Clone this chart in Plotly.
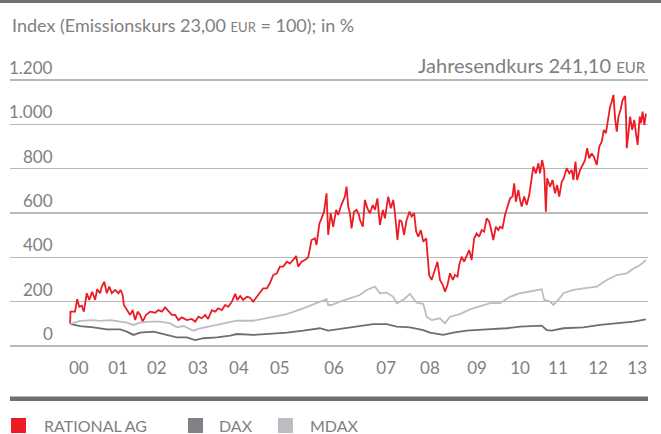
import plotly.graph_objects as go

# ---------------- data ----------------
rational_years = [
    2000.17, 2000.18, 2000.29, 2000.34, 2000.39, 2000.45, 2000.50, 2000.57, 2000.63, 2000.70,
    2000.77, 2000.82, 2000.89, 2000.93, 2000.99, 2001.05, 2001.11, 2001.17, 2001.25, 2001.33,
    2001.38, 2001.43, 2001.46, 2001.53, 2001.61, 2001.67, 2001.73, 2001.79, 2001.85, 2001.91,
    2001.99, 2002.09, 2002.21, 2002.29, 2002.37, 2002.45, 2002.53, 2002.61, 2002.69, 2002.77,
    2002.85, 2002.97, 2003.09, 2003.17, 2003.25, 2003.33, 2003.41, 2003.48, 2003.57, 2003.65,
    2003.72, 2003.81,
    2003.89, 2003.96, 2004.05, 2004.13, 2004.18, 2004.25, 2004.32, 2004.41, 2004.48, 2004.56,
    2004.65, 2004.72, 2004.80, 2004.89, 2004.96, 2005.04, 2005.13, 2005.20, 2005.28, 2005.37,
    2005.44, 2005.52, 2005.59, 2005.64, 2005.72, 2005.80, 2005.88, 2005.96, 2006.04, 2006.08,
    2006.15, 2006.20, 2006.26, 2006.32, 2006.36, 2006.42, 2006.48, 2006.55, 2006.60, 2006.66,
    2006.72, 2006.76, 2006.80, 2006.84, 2006.88, 2006.92, 2006.98, 2007.04, 2007.10,
    2007.12, 2007.19, 2007.24, 2007.30, 2007.36, 2007.43, 2007.48, 2007.54, 2007.60, 2007.67,
    2007.72, 2007.80, 2007.86, 2007.92, 2007.96, 2008.02, 2008.07, 2008.12, 2008.18, 2008.24,
    2008.31, 2008.36, 2008.42, 2008.47, 2008.52, 2008.58, 2008.64, 2008.71, 2008.75, 2008.78,
    2008.84, 2008.92, 2008.98, 2009.04, 2009.11, 2009.16, 2009.22, 2009.28, 2009.35, 2009.40,
    2009.46, 2009.50, 2009.56, 2009.62, 2009.68, 2009.74, 2009.80, 2009.86, 2009.92, 2009.98,
    2010.04, 2010.10, 2010.16, 2010.22, 2010.26, 2010.32, 2010.38, 2010.44,
    2010.48, 2010.54, 2010.60, 2010.66, 2010.72, 2010.78, 2010.82, 2010.86, 2010.92, 2010.96,
    2011.00, 2011.06, 2011.12, 2011.18, 2011.24, 2011.28, 2011.34, 2011.40, 2011.44, 2011.49,
    2011.54, 2011.58, 2011.61, 2011.68, 2011.74, 2011.80, 2011.85, 2011.90, 2011.96, 2012.01,
    2012.08, 2012.14, 2012.20, 2012.24, 2012.29, 2012.33, 2012.40, 2012.46, 2012.52, 2012.57,
    2012.62, 2012.68, 2012.73, 2012.80, 2012.86, 2012.92, 2012.97, 2013.02, 2013.08, 2013.12,
    2013.16, 2013.20, 2013.24, 2013.28, 2013.32, 2013.37, 2013.42, 2013.48, 2013.50, 2013.52,
    2013.56, 2013.60, 2013.65, 2013.70, 2013.74, 2013.78, 2013.83, 2013.86, 2013.90, 2013.94,
    2013.98,
]
rational_index = [
    100, 155, 155, 211, 177, 182, 155, 238, 208, 245,
    208, 256, 238, 268, 290, 238, 268, 238, 253, 238,
    253, 230, 185, 162, 140, 162, 117, 155, 140, 110,
    140, 155, 150, 162, 155, 174, 155, 140, 140, 117,
    129, 117, 122, 110, 132, 125, 140, 122, 162, 155,
    170, 162,
    185, 177, 200, 235, 208, 226, 208, 222, 219, 200,
    222, 238, 260, 260, 283, 320, 328, 358, 358, 380,
    372, 388, 406, 358, 380, 388, 400, 478, 486, 456,
    553, 576, 606, 689, 501, 599, 538, 614, 591, 629,
    659, 674, 719, 629, 599, 531, 606, 614, 591,
    569, 538, 659, 621, 599, 636, 614, 666, 546, 614,
    576, 674, 621, 659, 599, 478, 569, 561, 501, 569,
    606, 584, 599, 516, 493, 523, 471, 486, 403, 320,
    298, 343, 380, 298, 275, 245, 275, 328, 298, 320,
    313, 365, 403, 380, 411, 433, 388, 486, 508, 493,
    523, 516, 576, 561, 531, 478, 538, 523,
    538, 531, 591, 629, 666, 674, 734, 651, 704, 659,
    629, 674, 636, 681, 749, 809, 779, 824, 779, 839,
    794, 606, 757, 719, 749, 689, 726, 674, 741, 757,
    802, 779, 794, 749, 832, 749, 794, 817, 839, 892,
    847, 869, 854, 817, 899, 922, 975, 960, 1027, 1080,
    1102, 1133, 1027, 967, 1035, 1065, 1110, 1128, 1050, 892,
    960, 1035, 975, 1020, 960, 907, 1035, 1005, 1057, 997,
    1048,
]

dax_years = [
    2000.17, 2000.41, 2000.73, 2001.05, 2001.37, 2001.53, 2001.69, 2001.85, 2002.17, 2002.49,
    2002.73, 2002.97, 2003.17, 2003.37, 2003.69, 2004.01, 2004.17, 2004.56, 2004.96, 2005.37,
    2005.76, 2006.16, 2006.36, 2006.56, 2006.96, 2007.44, 2007.76, 2008.00, 2008.32, 2008.64,
    2008.80, 2009.12, 2009.36, 2009.68, 2010.16, 2010.64, 2010.96, 2011.48, 2011.60, 2011.72,
    2012.00, 2012.48, 2012.88, 2013.28, 2013.68, 2013.98,
]
dax_index = [
    100, 90, 84, 75, 75, 65, 50, 60, 65, 50,
    39, 39, 27, 35, 39, 47, 54, 50, 54, 60,
    69, 80, 69, 75, 87, 99, 99, 87, 84, 72,
    60, 50, 60, 69, 75, 80, 87, 92, 72, 69,
    80, 84, 95, 102, 110, 120,
]

mdax_years = [
    2000.17, 2000.41, 2000.73, 2000.89, 2001.13, 2001.41, 2001.53, 2001.69, 2001.85, 2002.09,
    2002.33, 2002.57, 2002.73, 2002.89, 2003.13, 2003.29, 2003.53, 2003.77, 2004.17, 2004.56,
    2004.96, 2005.37, 2005.76, 2006.08, 2006.24, 2006.32, 2006.36, 2006.44, 2006.64, 2006.96,
    2007.12, 2007.28, 2007.48, 2007.60, 2007.76, 2007.92, 2008.00, 2008.16, 2008.32, 2008.48,
    2008.64, 2008.72, 2008.84, 2009.04, 2009.16, 2009.28, 2009.52, 2009.76, 2010.00, 2010.24,
    2010.48, 2010.72, 2010.96, 2011.20, 2011.48, 2011.54, 2011.68, 2011.76, 2011.88, 2012.00,
    2012.24, 2012.48, 2012.80, 2013.04, 2013.28, 2013.52, 2013.68, 2013.84, 2013.98,
]
mdax_index = [
    100, 113, 117, 113, 117, 110, 105, 95, 105, 110,
    110, 102, 84, 90, 69, 80, 90, 99, 114, 114,
    129, 144, 170, 195, 208, 211, 185, 185, 200, 222,
    230, 253, 268, 238, 241, 222, 193, 208, 235, 195,
    190, 132, 117, 125, 102, 132, 144, 165, 180, 193,
    193, 222, 238, 245, 256, 208, 200, 185, 208, 238,
    253, 260, 268, 298, 320, 328, 350, 365, 388,
]

series_names = ["RATIONAL AG", "DAX", "MDAX"]
series_colors = ["#ed1c24", "#6d6e71", "#bcbdc0"]
legend_colors = ["#ed1c24", "#808184", "#bcbdc0"]

year_tick_pos = [2000.38, 2001.32, 2002.25, 2003.24, 2004.22, 2005.20, 2006.50,
                 2007.75, 2008.80, 2009.93, 2010.96, 2011.87, 2012.83, 2013.77]
year_tick_text = ["00", "01", "02", "03", "04", "05", "06",
                  "07", "08", "09", "10", "11", "12", "13"]
y_tick_vals = [0, 200, 400, 600, 800, 1000, 1200]
y_tick_text = ["0", "200", "400", "600", "800", "1.000", "1.200"]

title_text = "Index (Emissionskurs 23,00 <span style='font-size:13px'>EUR</span> = 100); in %"
note_text = "Jahresendkurs 241,10 <span style='font-size:15px'>EUR</span>"

# ---------------- figure ----------------
FONT = "Lato"
TXT = "#808080"
RULE = "#707070"

fig = go.Figure()
fig.add_trace(go.Scatter(x=mdax_years, y=mdax_index, mode="lines", name=series_names[2],
                         xaxis="x2", yaxis="y",
                         line=dict(color=series_colors[2], width=1.8), showlegend=False,
                         hoverinfo="skip"))
fig.add_trace(go.Scatter(x=dax_years, y=dax_index, mode="lines", name=series_names[1],
                         line=dict(color=series_colors[1], width=1.8), showlegend=False,
                         hoverinfo="skip"))
fig.add_trace(go.Scatter(x=rational_years, y=rational_index, mode="lines", name=series_names[0],
                         line=dict(color=series_colors[0], width=1.8), showlegend=False,
                         hoverinfo="skip"))

# plot area: pixel rows 70 .. 398 (bottom edge = separator rule)
def py(p):
    return (398.0 - p) / 328.0

annotations = []
for v, t in zip(y_tick_vals, y_tick_text):
    annotations.append(dict(x=0.0705, xref="paper", y=v, yref="y", text=t, showarrow=False,
                            xanchor="right", yanchor="bottom", yshift=0,
                            font=dict(family=FONT, size=17, color=TXT)))
annotations.append(dict(x=0.0, xref="paper", y=py(12), yref="paper", text=title_text,
                        showarrow=False, xanchor="left", yanchor="top",
                        font=dict(family=FONT, size=18, color=TXT)))
annotations.append(dict(x=1.0, xref="paper", y=1200, yref="y", text=note_text,
                        showarrow=False, xanchor="right", yanchor="bottom", yshift=1,
                        font=dict(family=FONT, size=20, color=TXT)))

shapes = [
    dict(type="rect", xref="paper", yref="paper", x0=-0.02, x1=1.03, y0=py(3), y1=py(0),
         layer="above", fillcolor=RULE, line=dict(width=0)),
    dict(type="rect", xref="paper", yref="paper", x0=0.0, x1=1.0, y0=py(400), y1=py(396.5),
         layer="above", fillcolor=RULE, line=dict(width=0)),
]
leg_sq_x = [0.0016, 0.279, 0.42]
leg_txt_x = [0.0502, 0.3245, 0.467]
for i in range(3):
    shapes.append(dict(type="rect", xref="paper", yref="paper",
                       x0=leg_sq_x[i], x1=leg_sq_x[i] + 0.0235, y0=py(433), y1=py(418),
                       fillcolor=legend_colors[i], line=dict(width=0)))
    annotations.append(dict(x=leg_txt_x[i], xref="paper", y=py(425.5), yref="paper",
                            text=series_names[i], showarrow=False, xanchor="left",
                            yanchor="middle", font=dict(family=FONT, size=16, color=TXT)))

x_range = [1998.729, 2014.029]
fig.update_layout(
    width=661, height=434,
    margin=dict(l=10, r=13, t=70, b=36),
    paper_bgcolor="white", plot_bgcolor="white",
    showlegend=False,
    hovermode=False,
    xaxis=dict(range=x_range, showgrid=False, zeroline=False,
               showline=True, linecolor=RULE, linewidth=3,
               showticklabels=False, ticks=""),
    xaxis2=dict(range=x_range, overlaying="x", anchor="free", position=py(356),
                side="bottom", showgrid=False, zeroline=False, showline=False,
                tickmode="array", tickvals=year_tick_pos, ticktext=year_tick_text, ticks="",
                tickfont=dict(family=FONT, size=17, color=TXT)),
    yaxis=dict(range=[-234.6, 1245.1], tickmode="array", tickvals=y_tick_vals,
               showticklabels=False, gridcolor="#b8b8b8", gridwidth=1.5,
               zeroline=False, showline=False, ticks=""),
    annotations=annotations,
    shapes=shapes,
)

fig.write_html("out.html", config={"displayModeBar": False, "staticPlot": True},
               post_script="document.body.style.margin='0px';document.body.style.padding='0px';")
